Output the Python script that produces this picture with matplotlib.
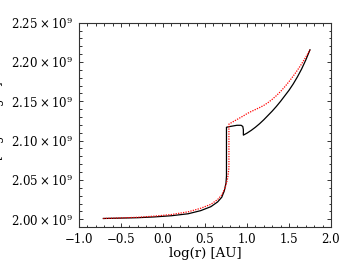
import matplotlib
matplotlib.use("Agg")
import matplotlib.pyplot as plt
from matplotlib.ticker import MultipleLocator, FuncFormatter

# log(r) [AU] and entropy [1e9 erg/K/g]
black_x = [-0.71, -0.5, -0.3, -0.1, 0.1, 0.3, 0.45, 0.57, 0.65, 0.70, 0.73, 0.75,
           0.756, 0.756, 0.80, 0.88, 0.93, 0.95, 0.957, 0.957, 1.0, 1.05, 1.1,
           1.15, 1.2, 1.25, 1.3, 1.35, 1.4, 1.45, 1.5, 1.55, 1.6, 1.65, 1.7, 1.75]
black_y = [2.001, 2.0015, 2.002, 2.003, 2.0045, 2.007, 2.011, 2.016, 2.022, 2.028,
           2.036, 2.046, 2.055, 2.117, 2.118, 2.1195, 2.1195, 2.118, 2.114, 2.107,
           2.1095, 2.113, 2.117, 2.1215, 2.1265, 2.132, 2.1375, 2.1435, 2.150,
           2.157, 2.164, 2.172, 2.181, 2.191, 2.2025, 2.2155]

red_x = [-0.71, -0.5, -0.3, -0.1, 0.1, 0.3, 0.45, 0.57, 0.65, 0.70, 0.74, 0.77,
         0.785, 0.785, 0.85, 0.9, 0.95, 1.0, 1.05, 1.1, 1.15, 1.2, 1.25, 1.3, 1.35,
         1.4, 1.45, 1.5, 1.55, 1.6, 1.65, 1.7, 1.75]
red_y = [2.001, 2.0017, 2.0025, 2.004, 2.006, 2.0095, 2.014, 2.019, 2.025, 2.031,
         2.040, 2.052, 2.065, 2.121, 2.125, 2.128, 2.131, 2.1343, 2.137, 2.1395,
         2.142, 2.1448, 2.1483, 2.1525, 2.1572, 2.1625, 2.1685, 2.175, 2.182,
         2.1895, 2.1975, 2.2062, 2.2155]

plt.rcParams["font.family"] = "DejaVu Serif"
plt.rcParams["mathtext.fontset"] = "dejavuserif"

fig = plt.figure(figsize=(3.54, 2.73), dpi=100)
ax = fig.add_axes([0.223, 0.168, 0.712, 0.749])

ax.plot(black_x, black_y, color="black", lw=0.9)
ax.plot(red_x, red_y, color="red", lw=0.9, linestyle=(0, (1, 1)))

ax.set_xlim(-1.0, 2.0)
ax.set_ylim(1.99, 2.25)
ax.xaxis.set_major_locator(MultipleLocator(0.5))
ax.xaxis.set_minor_locator(MultipleLocator(0.1))
ax.yaxis.set_major_locator(MultipleLocator(0.05))
ax.yaxis.set_minor_locator(MultipleLocator(0.01))
ax.xaxis.set_major_formatter(FuncFormatter(lambda v, p: ("%.1f" % v).replace("-", "\u2212")))
ax.yaxis.set_major_formatter(FuncFormatter(lambda v, p: r"$%.2f\times10^{9}$" % v))

ax.tick_params(which="both", direction="in", top=True, right=True,
               labelsize=8.5, width=0.7, color="#333333")
ax.tick_params(which="major", length=3.2, pad=4)
ax.tick_params(which="minor", length=1.8)
for s in ax.spines.values():
    s.set_linewidth(0.8)
    s.set_color("#333333")

ax.set_xlabel("log(r) [AU]", fontsize=9.5, labelpad=1)
# the reference has this label mostly cut off at the left edge
fig.text(0.02, 0.542, r"s [erg.K$^{-1}$.g$^{-1}$]", rotation=90,
         ha="right", va="center", fontsize=8.5)

fig.savefig("out.png", dpi=100)
